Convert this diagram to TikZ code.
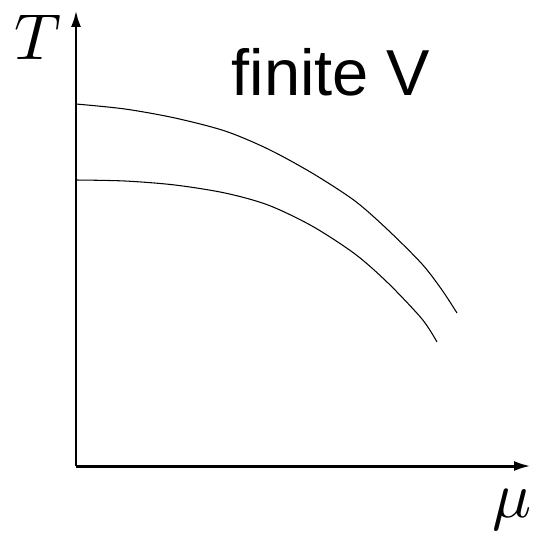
\documentclass[tikz,border=0pt]{standalone}
\usepackage{fontspec}
\newfontfamily\labelfont{Liberation Sans}
\usetikzlibrary{arrows.meta}

\begin{document}
\begin{tikzpicture}[x=0.02cm,y=0.02cm,
    axis/.style={line width=1.7pt,-{Latex[length=0.34cm,width=0.2cm]}},
    curve/.style={line width=0.6pt,smooth}]
  \useasboundingbox (0,0) rectangle (533,532);
  \coordinate (O) at (76,66);
  \coordinate (Ttop) at (76,522);
  \coordinate (Mutop) at (531,66);
  \draw[axis] (O) -- (Ttop);
  \draw[axis] (O) -- (Mutop);
  \node (Tlab) at (38,495) {\scalebox{3.7}{$T$}};
  \node (Mulab) at (512,22) {\scalebox{3.7}{$\mu$}};
  \node[anchor=base] (fv) at (331,437) {\labelfont\fontsize{37}{40}\selectfont finite V};
  % upper and lower lines
  \draw[curve] plot coordinates {(76,428) (125,423) (175,414) (225,401) (268,383) (312,359) (355,331) (388,302) (422,268) (442,242) (457,219)};
  \draw[curve] plot coordinates {(76,352) (125,351) (175,347) (225,339) (268,327) (312,306) (355,278) (388,249) (422,213) (437,190)};
\end{tikzpicture}
\end{document}
